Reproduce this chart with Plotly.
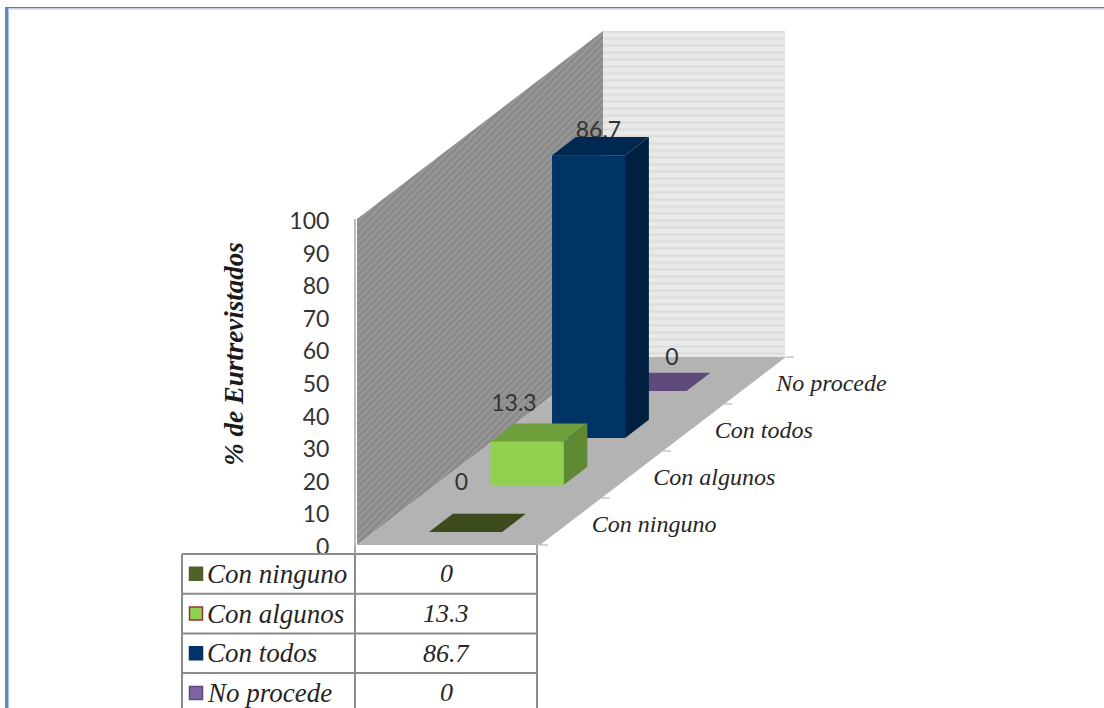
import plotly.graph_objects as go

# ---- data ----
categories = ["Con ninguno", "Con algunos", "Con todos", "No procede"]
values = [0, 13.3, 86.7, 0]
value_labels = ["0", "13.3", "86.7", "0"]
y_ticks = [0, 10, 20, 30, 40, 50, 60, 70, 80, 90, 100]
axis_title = "% de Eurtrevistados"

# ---- style ----
front_colors = ["#4f6228", "#92d050", "#003366", "#8064a2"]
top_colors = ["#3c4a1c", "#6f9e3c", "#002850", "#604a7b"]
side_colors = ["#36431a", "#5f8a33", "#00203f", "#54406c"]
swatch_colors = ["#4f6228", "#92d050", "#003366", "#8064a2"]
swatch_borders = ["#4f6228", "#953735", "#003366", "#604a7b"]
label_shifts = [(-16, -39), (-25, -27), (-2, -14), (10, -23)]  # px, from the centre of each bar top

W, H = 1104, 708
PX_PER_UNIT = 3.26
ZERO_PX = 545.0
ORIGIN_X = 357.0
FLOOR_W = 183.0
STEP_X = 61.5
STEP_Z = 47.0 / PX_PER_UNIT
BAR_LEFT = 55.0
BAR_W = 73.0
BAR_FRONT = 0.277
BAR_BACK = 0.665
N = len(categories)
Z_MAX = max(y_ticks)


def proj(w, c, z):
    """Oblique projection: w across, c depth in categories, z value."""
    return ORIGIN_X + w + c * STEP_X, z + c * STEP_Z


def poly(points, fill, name, pattern=None, line=None):
    xs, ys = zip(*[proj(*p) for p in points])
    return go.Scatter(
        x=list(xs) + [xs[0]], y=list(ys) + [ys[0]], mode="lines", fill="toself",
        fillcolor=fill, fillpattern=pattern,
        line=line or dict(width=0), hoverinfo="skip", showlegend=False, name=name,
    )


fig = go.Figure()

# walls and floor
fig.add_trace(poly([(0, 0, 0), (0, N, 0), (0, N, Z_MAX), (0, 0, Z_MAX)], "#969696", "left wall",
                   pattern=dict(shape="/", size=5, solidity=0.4, fgcolor="#a8a8a8", bgcolor="#8a8a8a")))
fig.add_trace(poly([(0, N, 0), (FLOOR_W - 1, N, 0), (FLOOR_W - 1, N, Z_MAX), (0, N, Z_MAX)], "#e6e6e6", "back wall",
                   pattern=dict(shape="-", size=7, solidity=0.3, fgcolor="#d0d0d0", bgcolor="#e9e9e9")))
fig.add_trace(poly([(0, 0, 0), (FLOOR_W, 0, 0), (FLOOR_W, N, 0), (0, N, 0)], "#b3b3b3", "floor"))

# floor ticks on the depth axis
tick_x, tick_y = [], []
for c in range(N + 1):
    x0, y0 = proj(FLOOR_W, c, 0)
    tick_x += [x0, x0 + 8, None]
    tick_y += [y0, y0, None]
fig.add_trace(go.Scatter(x=tick_x, y=tick_y, mode="lines", line=dict(color="#a6a6a6", width=1),
                         hoverinfo="skip", showlegend=False))

# category labels on the depth axis
cx, cy = zip(*[proj(FLOOR_W + 21, i + 0.5, -1.5) for i in range(N)])
fig.add_trace(go.Scatter(x=cx, y=cy, mode="text", text=categories, textposition="middle right",
                         textfont=dict(family="Liberation Serif", size=24, color="#262626",
                                       style="italic"),
                         hoverinfo="skip", showlegend=False))

# data labels (behind the bars, the tallest bar hides their lower edge)
for i in range(N):
    x0, y0 = proj(BAR_LEFT + BAR_W / 2, i + (BAR_FRONT + BAR_BACK) / 2, values[i])
    dx, dy = label_shifts[i]
    fig.add_trace(go.Scatter(x=[x0 + dx], y=[y0 - dy / PX_PER_UNIT], mode="text", text=[value_labels[i]],
                             textposition="middle center",
                             textfont=dict(family="Lato", size=23, color="#333333"),
                             hoverinfo="skip", showlegend=False))

# bars, back to front
for i in reversed(range(N)):
    v = values[i]
    l, r = BAR_LEFT, BAR_LEFT + BAR_W
    f, b = i + BAR_FRONT, i + BAR_BACK
    if v > 0:
        fig.add_trace(poly([(r, f, 0), (r, b, 0), (r, b, v), (r, f, v)], side_colors[i], categories[i]))
        fig.add_trace(poly([(l, f, 0), (r, f, 0), (r, f, v), (l, f, v)], front_colors[i], categories[i]))
    fig.add_trace(poly([(l, f, v), (r, f, v), (r, b, v), (l, b, v)], top_colors[i], categories[i]))

# ---- data table under the chart ----
TABLE_LEFT, TABLE_MID, TABLE_RIGHT = 182, 355, 537
TABLE_TOP, ROW_H = 554, 39.7


def py(px):
    return (ZERO_PX - px) / PX_PER_UNIT


fig.add_trace(go.Scatter(
    x=[TABLE_LEFT + 14] * N,
    y=[py(TABLE_TOP + ROW_H * (i + 0.5)) for i in range(N)],
    mode="markers",
    marker=dict(symbol="square", size=13, color=swatch_colors,
                line=dict(color=swatch_borders, width=1.5)),
    hoverinfo="skip", showlegend=False,
))

annotations = []
for i in range(N):
    yc = py(TABLE_TOP + ROW_H * (i + 0.5))
    annotations.append(dict(x=TABLE_LEFT + 23, y=yc, xref="x", yref="y", text=categories[i], showarrow=False,
                            xanchor="left", yanchor="middle",
                            font=dict(family="Liberation Serif", size=27, color="#262626", style="italic")))
    annotations.append(dict(x=(TABLE_MID + TABLE_RIGHT) / 2, y=yc, xref="x", yref="y", text=value_labels[i],
                            showarrow=False, xanchor="center", yanchor="middle",
                            font=dict(family="Liberation Serif", size=26, color="#262626", style="italic")))

GRID = dict(color="#8c8c8c", width=2)
shapes = []
for k in range(N):
    y = py(TABLE_TOP + ROW_H * k)
    shapes.append(dict(type="line", xref="x", yref="y", x0=TABLE_LEFT, x1=TABLE_RIGHT, y0=y, y1=y, line=GRID, layer="above"))
for x in (TABLE_LEFT, TABLE_MID, TABLE_RIGHT):
    shapes.append(dict(type="line", xref="x", yref="paper", x0=x, x1=x, y0=0, y1=1 - TABLE_TOP / H, line=GRID, layer="above"))
for x in (355, 537):
    shapes.append(dict(type="line", xref="x", yref="paper", x0=x, x1=x, y0=1 - TABLE_TOP / H, y1=1 - ZERO_PX / H,
                       line=dict(color="#a6a6a6", width=2), layer="above"))
shapes.append(dict(type="line", xref="x", yref="y", x0=355, x1=355, y0=0, y1=100, line=dict(color="#a6a6a6", width=1.5), layer="above"))
# page frame
shapes += [
    dict(type="rect", xref="paper", yref="paper", x0=5 / W, x1=8.5 / W, y0=0, y1=1 - 7 / H, fillcolor="#5b8ac4", line=dict(width=0), layer="above"),
    dict(type="rect", xref="paper", yref="paper", x0=5 / W, x1=1, y0=1 - 8.5 / H, y1=1 - 7 / H, fillcolor="#4f81bd", line=dict(width=0), layer="above"),
    dict(type="rect", xref="paper", yref="paper", x0=8.5 / W, x1=1, y0=1 - 10 / H, y1=1 - 8.5 / H, fillcolor="#dce6f4", line=dict(width=0), layer="above"),
]

fig.update_layout(
    width=W, height=H, margin=dict(l=0, r=0, t=0, b=0),
    paper_bgcolor="white", plot_bgcolor="white", showlegend=False,
    shapes=shapes, annotations=annotations,
    xaxis=dict(range=[0, W], visible=False, fixedrange=True),
    yaxis=dict(
        range=[(ZERO_PX - H) / PX_PER_UNIT, ZERO_PX / PX_PER_UNIT],
        anchor="free", position=355 / W, side="left",
        tickmode="array", tickvals=y_ticks, ticktext=[str(t) for t in y_ticks],
        ticks="outside", ticklen=21, tickcolor="rgba(0,0,0,0)", ticklabelshift=2,
        tickfont=dict(family="Lato", size=23, color="#333333"),
        showgrid=False, zeroline=False, showline=False, fixedrange=True,
        title=dict(text="<b><i>" + axis_title + "</i></b>", standoff=36,
                   font=dict(family="Liberation Serif", size=27, color="#1a1a1a")),
    ),
)

fig.write_html("out.html", post_script="document.body.style.margin='0';", config=dict(displayModeBar=False))
